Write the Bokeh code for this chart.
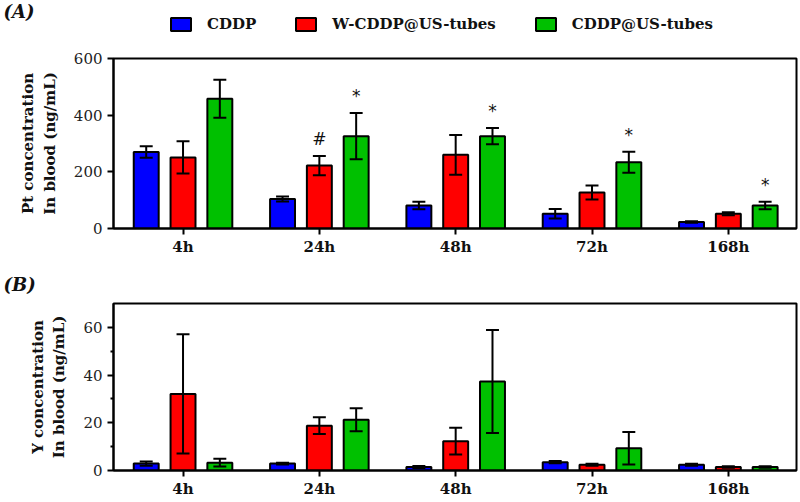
from bokeh.plotting import figure
from bokeh.models import FixedTicker, Legend, LegendItem, Label, Range1d, Plot
from bokeh.layouts import column
from bokeh.embed import file_html
from bokeh.resources import INLINE
from bokeh.core.properties import value

# ---------------- data ----------------
categories = ["4h", "24h", "48h", "72h", "168h"]
series_names = ["CDDP", "W-CDDP@US-tubes", "CDDP@US-tubes"]

# Panel A: Pt concentration in blood (ng/mL)
cddp_pt = [270, 104, 81, 52, 23]
cddp_pt_err = [20, 9, 13, 17, 3]
w_pt = [251, 222, 260, 127, 52]
w_pt_err = [57, 34, 70, 25, 5]
us_pt = [458, 326, 326, 234, 81]
us_pt_err = [67, 82, 29, 37, 13]

# Panel B: Y concentration in blood (ng/mL)
cddp_y = [2.9, 2.9, 1.5, 3.5, 2.4]
cddp_y_err = [0.9, 0.4, 0.4, 0.5, 0.4]
w_y = [32.1, 18.8, 12.3, 2.4, 1.5]
w_y_err = [25.0, 3.5, 5.6, 0.4, 0.3]
us_y = [3.3, 21.3, 37.3, 9.3, 1.5]
us_y_err = [1.6, 4.8, 21.6, 6.8, 0.3]

# significance marks in panel A: (category index, series index, symbol)
marks_cat = [1, 1, 2, 3, 4]
marks_series = [1, 2, 2, 2, 2]
marks_text = ["#", "*", "*", "*", "*"]

a_yticks = [0, 200, 400, 600]
b_yticks = [0, 20, 40, 60]
b_yminor = [10, 30, 50]

# ---------------- style ----------------
colors = ["#0000FF", "#FF0000", "#00C000"]
offsets = [-0.27, 0.0, 0.27]
bar_w = 0.183
cap_w = 0.095
SERIF = "DejaVu Serif"
W = 798
FRAME_H = 171
INK = "#111111"
HAS_FA = "frame_align" in Plot.properties()
LEFT = 0 if HAS_FA else 113  # where a strip's frame starts


def strip(height):
    kw = {} if HAS_FA else dict(min_border_left=113, min_border_right=2)
    s = figure(width=W, height=height, x_range=Range1d(0, 4.5), y_range=Range1d(0, 1),
               x_axis_type=None, y_axis_type=None, output_backend="svg",
               toolbar_location=None, min_border=0, **kw)
    if HAS_FA:
        s.frame_align = False
    s.xgrid.visible = False
    s.ygrid.visible = False
    s.outline_line_color = None
    return s


def make_panel(means, errs, ymax, yticks, yminor, ylabel, height, btop, bbottom):
    p = figure(width=W, height=height, x_range=(-0.51, 4.50), y_range=(0, ymax),
               output_backend="svg", toolbar_location=None,
               min_border_left=113, min_border_right=2,
               min_border_top=btop, min_border_bottom=bbottom)
    p.xgrid.visible = False
    p.ygrid.visible = False
    p.outline_line_color = "black"
    p.outline_line_width = 2

    renderers = []
    for i in range(3):
        xs = [c + offsets[i] for c in range(len(categories))]
        r = p.vbar(x=xs, top=means[i], bottom=0, width=bar_w,
                   fill_color=colors[i], line_color="black", line_width=2)
        renderers.append(r)
        lo = [m - e for m, e in zip(means[i], errs[i])]
        hi = [m + e for m, e in zip(means[i], errs[i])]
        p.segment(x0=xs, y0=lo, x1=xs, y1=hi, line_color="black", line_width=2)
        p.segment(x0=[x - cap_w / 2 for x in xs], y0=hi,
                  x1=[x + cap_w / 2 for x in xs], y1=hi, line_color="black", line_width=2)
        p.segment(x0=[x - cap_w / 2 for x in xs], y0=lo,
                  x1=[x + cap_w / 2 for x in xs], y1=lo, line_color="black", line_width=2)

    xa = p.xaxis[0]
    xa.ticker = FixedTicker(ticks=list(range(len(categories))))
    xa.major_label_overrides = {i: c for i, c in enumerate(categories)}
    xa.major_tick_in = 0
    xa.major_tick_out = 6
    xa.minor_tick_out = 0
    xa.axis_line_width = 2
    xa.major_tick_line_width = 2
    xa.major_label_standoff = 3
    xa.major_label_text_font = SERIF
    xa.major_label_text_font_style = "bold"
    xa.major_label_text_font_size = "15px"
    xa.major_label_text_color = INK

    ya = p.yaxis[0]
    ya.ticker = FixedTicker(ticks=yticks, minor_ticks=yminor)
    ya.major_tick_in = 0
    ya.major_tick_out = 6
    ya.minor_tick_in = 0
    ya.minor_tick_out = 3 if yminor else 0
    ya.axis_line_width = 2
    ya.major_tick_line_width = 2
    ya.minor_tick_line_width = 2
    ya.major_label_standoff = 5
    ya.major_label_text_font = SERIF
    ya.major_label_text_font_size = "15px"
    ya.major_label_text_color = "#222222"
    ya.axis_label = ylabel
    ya.axis_label_text_font = SERIF
    ya.axis_label_text_font_style = "bold"
    ya.axis_label_text_font_size = "15px"
    ya.axis_label_text_color = INK
    ya.axis_label_standoff = 12
    return p, renderers


# ---------------- panel A ----------------
pA, rA = make_panel([cddp_pt, w_pt, us_pt], [cddp_pt_err, w_pt_err, us_pt_err],
                    600, a_yticks, [], "Pt concentration\nIn blood (ng/mL)", 212, 12, 29)

all_means = [cddp_pt, w_pt, us_pt]
all_errs = [cddp_pt_err, w_pt_err, us_pt_err]
pad = 17 * 600 / FRAME_H
mx = [c + offsets[s] for c, s in zip(marks_cat, marks_series)]
my = [all_means[s][c] + all_errs[s][c] + pad for c, s in zip(marks_cat, marks_series)]
pA.text(x=mx, y=my, text=marks_text, text_font=value("DejaVu Sans"),
        text_font_size=value("17px"), text_align="center", text_baseline="middle",
        text_color=INK)

# ---------------- top strip: (A) + legend ----------------
top = strip(46)
# legend swatches come from the same series, drawn hidden (legend glyphs only)
keys = []
for i, m in enumerate(all_means):
    r = top.vbar(x=list(range(len(categories))), top=m, bottom=0, width=bar_w,
                 fill_color=colors[i], line_color="black", line_width=2, visible=False)
    keys.append(r)
legend = Legend(items=[LegendItem(label=n, renderers=[r]) for n, r in zip(series_names, keys)],
                orientation="horizontal", location=(168 - LEFT, 13),
                padding=0, margin=0, spacing=37, label_standoff=14,
                glyph_width=25, glyph_height=16, label_height=16,
                border_line_color=None, background_fill_alpha=0, inactive_fill_alpha=0,
                label_text_font=SERIF, label_text_font_style="bold",
                label_text_font_size="15px", label_text_color=INK)
top.add_layout(legend)
top.add_layout(Label(x=3 - LEFT, y=46, x_units="screen", y_units="screen", text="(A)",
                     text_font=SERIF, text_font_style="bold italic",
                     text_font_size="18px", text_baseline="top", text_color=INK))

# ---------------- middle strip: (B) ----------------
mid = strip(42)
mid.add_layout(Label(x=3 - LEFT, y=42 - 15, x_units="screen", y_units="screen", text="(B)",
                     text_font=SERIF, text_font_style="bold italic",
                     text_font_size="18px", text_baseline="top", text_color=INK))

# ---------------- panel B ----------------
pB, rB = make_panel([cddp_y, w_y, us_y], [cddp_y_err, w_y_err, us_y_err],
                    70, b_yticks, b_yminor, "Y concentration\nIn blood (ng/mL)", 200, 3, 26)

layout = column(top, pA, mid, pB, spacing=0)
open("out.html", "w").write(file_html(layout, INLINE))
